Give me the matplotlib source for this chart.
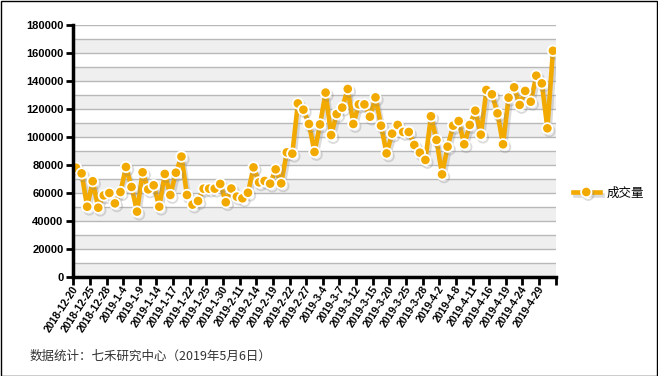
import matplotlib
matplotlib.use("Agg")
import matplotlib.pyplot as plt
import matplotlib.patheffects as pe
from matplotlib.lines import Line2D
from matplotlib.patches import Rectangle

plt.rcParams['font.family'] = ['Liberation Sans', 'Noto Sans CJK SC', 'DejaVu Sans']

# 成交量 (daily), 2018-12-20 .. 2019-5-6
volume = [
    78000, 74000, 50200, 68400, 49500, 58300, 60000, 52600, 60700, 78600,
    64300, 46700, 74800, 62600, 65500, 50200, 73600, 58600, 74500, 86000,
    58600, 51700, 54300, 63100, 63100, 63100, 66500, 53400, 63200,
    57400, 56200, 60200, 78300, 67600, 68600, 66700, 76900, 66900, 89000,
    88100, 124000, 119500, 109300, 89300, 109000, 131700, 101400, 116400, 121000,
    134300, 109300, 123300, 123300, 114500, 128300, 108100, 88300, 102400,
    108600, 103600, 103600, 94300, 88800, 83600, 114800, 97900, 73300, 93100,
    108100, 111400, 94800, 108600, 118800, 101700, 133600, 130500, 116900, 94800,
    128100, 135500, 122900, 132900, 125200, 143800, 138300, 106200, 161600,
]

tick_labels = [
    "2018-12-20", "2018-12-25", "2018-12-28", "2019-1-4", "2019-1-9",
    "2019-1-14", "2019-1-17", "2019-1-22", "2019-1-25", "2019-1-30",
    "2019-2-11", "2019-2-14", "2019-2-19", "2019-2-22", "2019-2-27",
    "2019-3-4", "2019-3-7", "2019-3-12", "2019-3-15", "2019-3-20",
    "2019-3-25", "2019-3-28", "2019-4-2", "2019-4-8", "2019-4-11",
    "2019-4-16", "2019-4-19", "2019-4-24", "2019-4-29",
]

orange = '#F2A900'
n = len(volume)
x = list(range(n))

fig = plt.figure(figsize=(6.58, 3.76), dpi=100)
ax = fig.add_axes([73.3 / 658, 99 / 376, (555.7 - 73.3) / 658, 252 / 376])

# alternating bands
for k in range(0, 18, 2):
    ax.axhspan(k * 10000, (k + 1) * 10000, color='#EFEFEF', lw=0, zorder=0)
for k in range(1, 19):
    ax.axhline(k * 10000, color='#B8B8B8', lw=1, zorder=1)

shadow = [pe.SimpleLineShadow(offset=(1.5, -2), shadow_color='#888888', alpha=0.3),
          pe.Normal()]
ax.plot(x, volume, color=orange, lw=3.3, marker='o', ms=7.5, mfc=orange,
        mec='white', mew=1.3, zorder=3, path_effects=shadow)

ax.set_xlim(-0.5, n - 0.5)
ax.set_ylim(0, 180000)
ax.set_yticks(range(0, 180001, 20000))
ax.set_yticklabels([str(v) for v in range(0, 180001, 20000)],
                   fontsize=8, fontweight='bold')

# category boundaries for tick marks, labels at category centres
ax.set_xticks([i - 0.5 for i in range(0, n + 1, 3)], minor=True)
ax.set_xticks(list(range(0, n - 2, 3)))
ax.set_xticklabels(tick_labels, rotation=57, ha='right', va='center',
                   rotation_mode='anchor', fontsize=7.5, fontweight='bold')
ax.tick_params(axis='x', which='major', length=0, pad=7)
ax.tick_params(axis='x', which='minor', length=6, width=2, direction='out')
ax.tick_params(axis='y', length=5, width=2, direction='out', pad=2)

for s in ['top', 'right']:
    ax.spines[s].set_visible(False)
for s in ['left', 'bottom']:
    ax.spines[s].set_linewidth(2.5)
    ax.spines[s].set_zorder(4)

handle = Line2D([], [], color=orange, lw=3.3, marker='o', ms=7.5, mfc=orange,
                mec='white', mew=1.3, path_effects=shadow)
fig.legend([handle], ['成交量'], loc='center left', bbox_to_anchor=(0.853, 0.487),
           frameon=False, handlelength=2.2, handletextpad=0.5,
           prop={'family': ['Noto Sans CJK SC', 'DejaVu Sans'], 'size': 9})

fig.text(30 / 658, 1 - 356 / 376, '数据统计：七禾研究中心（2019年5月6日）',
         fontsize=9, color='#333333', va='center', ha='left',
         family=['Noto Sans CJK SC', 'DejaVu Sans'])

fig.patches.append(Rectangle((0.5 / 658, 0.5 / 376), 1 - 1.5 / 658, 1 - 1.5 / 376,
                             transform=fig.transFigure, fill=False,
                             edgecolor='black', lw=1))

fig.savefig('out.png', dpi=100)
